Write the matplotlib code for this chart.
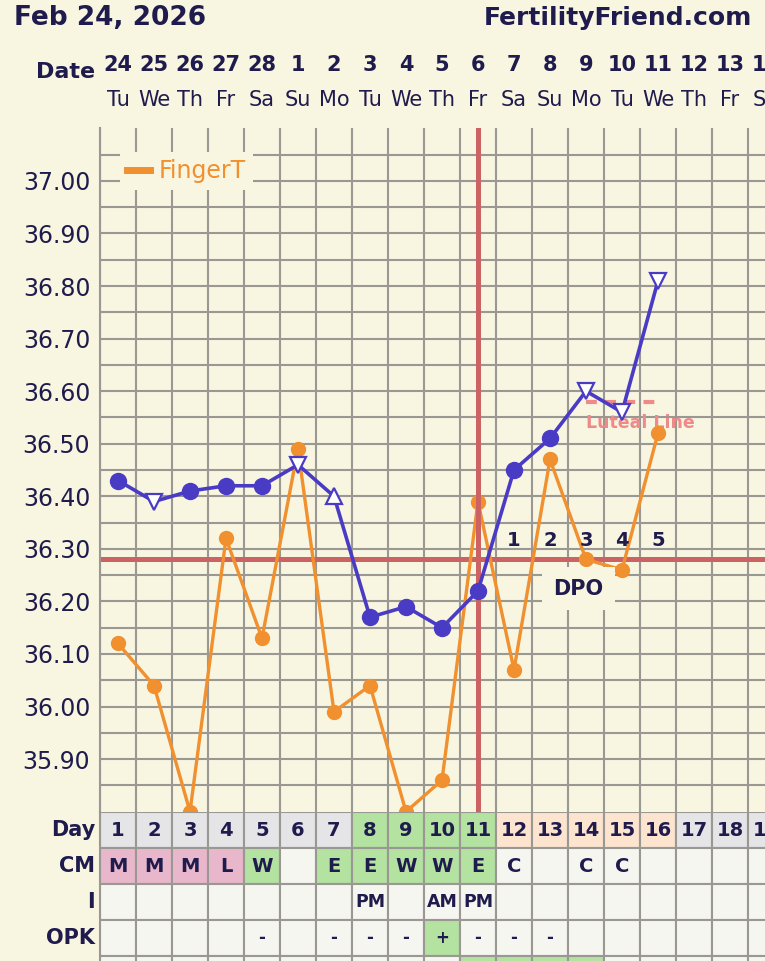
import matplotlib
matplotlib.use("Agg")
import matplotlib.pyplot as plt
import numpy as np
from matplotlib.lines import Line2D
from matplotlib.patches import Rectangle

# chart values
cycle_days = list(range(1, 17))
finger_temps = [36.12, 36.04, 35.80, 36.32, 36.13, 36.49, 35.99, 36.04,
                35.80, 35.86, 36.39, 36.07, 36.47, 36.28, 36.26, 36.52]
main_temps = [36.43, 36.39, 36.41, 36.42, 36.42, 36.46, 36.40, 36.17,
              36.19, 36.15, 36.22, 36.45, 36.51, 36.60, 36.56, 36.81]
main_markers = ["o", "v", "o", "o", "o", "v", "^", "o", "o", "o",
                "o", "o", "o", "v", "v", "v"]
coverline = 36.28
ovulation_day = 11
luteal_level = 36.58
luteal_days = [14, 16]
dpo_days = [12, 13, 14, 15, 16]

date_numbers = ["24", "25", "26", "27", "28", "1", "2", "3", "4", "5", "6",
                "7", "8", "9", "10", "11", "12", "13", "14"]
weekdays = ["Tu", "We", "Th", "Fr", "Sa", "Su", "Mo", "Tu", "We", "Th",
            "Fr", "Sa", "Su", "Mo", "Tu", "We", "Th", "Fr", "Sa"]
table_days = list(range(1, 20))
cm_codes = ["M", "M", "M", "L", "W", "", "E", "E", "W", "W", "E", "C", "",
            "C", "C", "", "", "", ""]
intercourse = {8: "PM", 10: "AM", 11: "PM"}
opk_results = {5: "-", 7: "-", 8: "-", 9: "-", 10: "+", 11: "-", 12: "-", 13: "-"}
fertile_days = [8, 9, 10, 11]
luteal_phase_days = [12, 13, 14, 15, 16]
extra_row_green = [11, 12, 13, 14]

BG = "#f8f5e1"
GRID = "#9a9893"
NAVY = "#1f1b4d"
BLUE = "#4a3bc4"
ORANGE = "#f0902f"
RED = "#cc6262"
PINK_TXT = "#ee8a8a"
CELL = "#f6f6f1"
GRAY_CELL = "#e5e5e8"
GREEN = "#b3e2a1"
PEACH = "#fde4cf"
PINK = "#e9b7cb"

W, H = 765, 961
fig = plt.figure(figsize=(W / 100, H / 100), dpi=100, facecolor=BG)
plt.rcParams["font.family"] = ["DejaVu Sans"]

top_px, bot_px, left_px = 128.3, 811.7, 100
col_px = 36
x_max = 0.5 + (W - left_px) / col_px

ax = fig.add_axes([left_px / W, 1 - bot_px / H, (W - left_px) / W, (bot_px - top_px) / H])
ax.set_facecolor(BG)

ax.set_xticks(np.arange(0.5, 19, 1))
ax.set_xticklabels([])
ax.set_yticks(np.round(np.arange(35.90, 37.001, 0.1), 2))
ax.set_yticklabels([f"{v:.2f}" for v in np.arange(35.90, 37.001, 0.1)])
ax.set_yticks(np.round(np.arange(35.85, 37.11, 0.1), 2), minor=True)
ax.set_xlim(0.5, x_max)
ax.set_ylim(35.80, 37.10)
ax.tick_params(axis="both", which="both", length=0)
ax.tick_params(axis="y", labelsize=17, labelcolor=NAVY, pad=7)
ax.grid(True, which="both", color=GRID, linewidth=1.5, zorder=0)
for side in ["top", "right", "bottom"]:
    ax.spines[side].set_visible(False)
ax.spines["left"].set_color(GRID)
ax.spines["left"].set_linewidth(1.5)
ax.set_axisbelow(True)

# coverline and ovulation line
ax.axhline(coverline, color=RED, linewidth=3.6, zorder=2)
ax.axvline(ovulation_day, color=RED, linewidth=3.6, zorder=5, ymax=0.997)

# luteal line
ax.plot(luteal_days, [luteal_level] * 2, color=PINK_TXT, linewidth=3,
        linestyle=(0, (2.6, 2.0)), zorder=3)
ax.text(luteal_days[0], luteal_level - 0.04, "Luteal Line", color=PINK_TXT,
        fontsize=12.5, fontweight="bold", ha="left", va="center", zorder=3)

# finger temps
ax.plot(cycle_days, finger_temps, color=ORANGE, linewidth=2.4, marker="o",
        markersize=10, zorder=4)

# main temps
ax.plot(cycle_days, main_temps, color=BLUE, linewidth=2.6, zorder=6)
for d, t, m in zip(cycle_days, main_temps, main_markers):
    if m == "o":
        ax.plot(d, t, marker="o", markersize=11.5, color=BLUE, zorder=7)
    else:
        ax.plot(d, t, marker=m, markersize=12, markerfacecolor="white",
                markeredgecolor=BLUE, markeredgewidth=1.6, zorder=7)

# DPO counts
for i, d in enumerate(dpo_days, start=1):
    ax.text(d, 36.315, str(i), color=NAVY, fontsize=14, fontweight="bold",
            ha="center", va="center", zorder=8)
ax.text(13.78, 36.224, "DPO", color=NAVY, fontsize=15, fontweight="bold",
        ha="center", va="center", zorder=8,
        bbox=dict(boxstyle="square,pad=0.55", facecolor=BG, edgecolor="none"))

# legend
proxy = Line2D([], [], color=ORANGE, linewidth=5)
leg = ax.legend(handles=[proxy], labels=["FingerT"], loc="upper left",
                bbox_to_anchor=(0.012, 0.983), frameon=True, fancybox=False,
                facecolor=BG, edgecolor="none", framealpha=1,
                handlelength=1.0, handletextpad=0.35, borderpad=0.3,
                prop={"size": 17})
for txt in leg.get_texts():
    txt.set_color(ORANGE)

# header texts
fig.text(14 / W, 1 - 18 / H, "Feb 24, 2026", fontsize=19, fontweight="bold",
         color=NAVY, ha="left", va="center")
fig.text(752 / W, 1 - 18 / H, "FertilityFriend.com", fontsize=18,
         fontweight="bold", color=NAVY, ha="right", va="center")
fig.text(95 / W, 1 - 72 / H, "Date", fontsize=16, fontweight="bold",
         color=NAVY, ha="right", va="center")
xform = ax.get_xaxis_transform()
for i, (num, wd) in enumerate(zip(date_numbers, weekdays), start=1):
    ax.text(i, 1 + (top_px - 65) / (bot_px - top_px), num, transform=xform,
            fontsize=15, fontweight="bold", color=NAVY, ha="center",
            va="center", clip_on=False)
    ax.text(i, 1 + (top_px - 100) / (bot_px - top_px), wd, transform=xform,
            fontsize=15, color=NAVY, ha="center", va="center", clip_on=False)

# bottom table
row_px = 36
tax = fig.add_axes([left_px / W, 0, (W - left_px) / W, (H - bot_px) / H])
tax.set_xlim(0.5, x_max)
tax.set_ylim((H - bot_px) / row_px, 0)
tax.axis("off")
tax.patch.set_alpha(0)


def cell(col, row, color, text="", size=14):
    tax.add_patch(Rectangle((col - 0.5, row), 1, 1, facecolor=color,
                            edgecolor=GRID, linewidth=1.5))
    if text:
        tax.text(col, row + 0.52, text, fontsize=size, fontweight="bold",
                 color=NAVY, ha="center", va="center")


for d in table_days:
    if d in fertile_days:
        c = GREEN
    elif d in luteal_phase_days:
        c = PEACH
    else:
        c = GRAY_CELL
    cell(d, 0, c, str(d), 14)

    code = cm_codes[d - 1]
    if code in ("M", "L"):
        c = PINK
    elif code in ("W", "E"):
        c = GREEN
    else:
        c = CELL
    cell(d, 1, c, code, 14)

    cell(d, 2, CELL, intercourse.get(d, ""), 12.5)

    res = opk_results.get(d, "")
    cell(d, 3, GREEN if res == "+" else CELL, res, 12)

    cell(d, 4, GREEN if d in extra_row_green else CELL)

for r, label in enumerate(["Day", "CM", "I", "OPK"]):
    tax.text(0.5 - 5 / col_px, r + 0.5, label, fontsize=15, fontweight="bold",
             color=NAVY, ha="right", va="center", clip_on=False)

tax.plot([0.5, 0.5], [0, 5], color=GRID, linewidth=1.5, clip_on=False)

fig.savefig("out.png", dpi=100, facecolor=BG)
